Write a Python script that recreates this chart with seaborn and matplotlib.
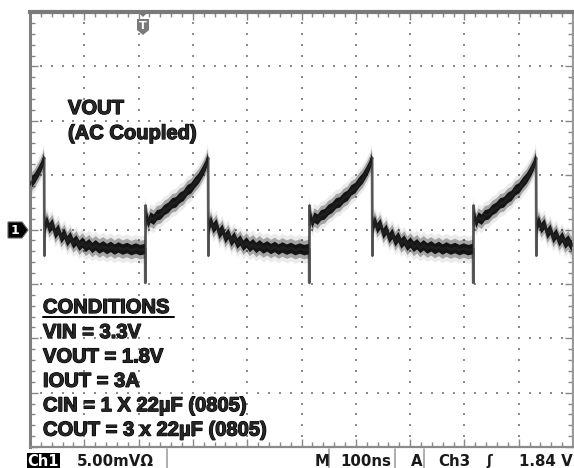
import numpy as np
import pandas as pd
import matplotlib
matplotlib.use("Agg")
import matplotlib.pyplot as plt
import matplotlib.patheffects as pe
import seaborn as sns
from matplotlib.patches import Polygon, Rectangle
from matplotlib.lines import Line2D

# ---- data read from the scope capture (time in ns, voltage in mV, AC coupled) ----
# one switching cycle, time measured from the upward jump
rise_t = [0, 0.4, 0.9, 1.6, 3, 6, 10, 16, 22, 29, 36, 43, 50, 57, 64, 71, 78, 85,
          92, 99, 106, 111, 114, 116]
rise_v = [-1.8, -4.9, 2.2, 0.4, 1.3, 0.6, 1.1, 0.9, 1.3, 1.4, 1.8, 2.0, 2.4, 2.5,
          2.9, 3.1, 3.6, 3.8, 4.3, 4.7, 5.3, 5.8, 6.2, 6.6]
fall_t = [116.6, 117.2, 118.5, 121, 126, 131.5, 137, 142.5, 148, 153.5, 159, 164.5,
          170, 175.5, 181, 187, 193, 199, 205, 211, 218, 225, 232, 239, 246, 253,
          261, 269, 277, 285, 293, 301.5]
fall_v = [-2.4, 0.9, 0.2, 0.8, 0.1, 0.5, -0.4, 0.0, -0.8, -0.4, -1.1, -0.7, -1.3,
          -1.0, -1.5, -1.2, -1.6, -1.35, -1.7, -1.45, -1.75, -1.55, -1.8, -1.6,
          -1.85, -1.65, -1.85, -1.7, -1.9, -1.75, -1.9, -1.8]
cycle_starts = [-90, 212, 514, 816]   # ns, where each upward jump happens

conditions = ["VIN = 3.3V", "VOUT = 1.8V", "IOUT = 3A",
              "CIN = 1 X 22µF (0805)", "COUT = 3 x 22µF (0805)"]

W, H = 574, 468
sns.set_theme(style="white")
plt.rcParams['font.family'] = ['Liberation Sans', 'DejaVu Sans']

fig = plt.figure(figsize=(W / 100, H / 100), dpi=100)
fig.patch.set_facecolor("white")
ax = fig.add_axes([30 / W, (H - 447) / H, 543 / W, 435 / H])
ax.set_facecolor("white")

cyc_t = np.array(rise_t + fall_t)
cyc_v = np.array(rise_v + fall_v)
df = pd.DataFrame({
    "t": np.concatenate([cyc_t + s for s in cycle_starts]),
    "v": np.concatenate([cyc_v for _ in cycle_starts]),
})

# graticule dots
gx, gy = [], []
for xv in range(100, 1000, 100):
    for yv in np.arange(-20, 20.01, 1):
        gx.append(xv); gy.append(yv)
for yv in range(-15, 16, 5):
    for xv in np.arange(0, 1000.1, 20):
        gx.append(xv); gy.append(yv)
ax.scatter(gx, gy, s=2.2, marker="s", color="#8c8c8c", linewidths=0, zorder=1)

# trace: fuzz bands + thin core (keeps spikes thin)
ax.fill_between(df.t, df.v - 1.25, df.v + 1.25, color="black", alpha=0.08, lw=0, zorder=2)
ax.fill_between(df.t, df.v - 0.85, df.v + 0.85, color="black", alpha=0.30, lw=0, zorder=2)
ax.fill_between(df.t, df.v - 0.48, df.v + 0.48, color="black", alpha=0.88, lw=0, zorder=2)
sns.lineplot(data=df, x="t", y="v", color="#222222", lw=2.0, alpha=0.75, ax=ax,
             sort=False, estimator=None, zorder=3)

ax.set_xlim(0, 1000)
ax.set_ylim(-20, 20)
ax.set_xlabel("")
ax.set_ylabel("")
ax.set_xticks(np.arange(0, 1001, 100))
ax.set_xticks(np.arange(0, 1001, 20), minor=True)
ax.set_yticks(np.arange(-20, 21, 5))
ax.set_yticks(np.arange(-20, 21, 1), minor=True)
ax.tick_params(which="both", direction="in", top=True, right=True, bottom=True,
               left=True, labelbottom=False, labelleft=False, color="#888888", width=1)
ax.tick_params(which="major", length=6)
ax.tick_params(which="minor", length=3.5)
for side, lw, c in [("top", 3.0, "#7a7a7a"), ("left", 2.2, "#7f7f7f"),
                    ("right", 1.6, "#9a9a9a"), ("bottom", 1.6, "#8a8a8a")]:
    ax.spines[side].set_visible(True)
    ax.spines[side].set_linewidth(lw)
    ax.spines[side].set_color(c)


def fx(x):
    return x / W


def fy(y):
    return 1 - y / H


heavy = [pe.withStroke(linewidth=0.9, foreground="black")]
bold = dict(fontsize=14.5, fontweight="bold", va="baseline", ha="left",
            family=["Liberation Sans", "DejaVu Sans"], path_effects=heavy)
fig.text(fx(68), fy(114), "VOUT", **bold)
fig.text(fx(68), fy(139), "(AC Coupled)", **bold)
fig.text(fx(43), fy(313), "CONDITIONS", **bold)
fig.add_artist(Line2D([fx(43), fx(174)], [fy(316.5)] * 2, color="black", lw=1.4))
for i, line in enumerate(conditions):
    fig.text(fx(43), fy(338 + i * 24.4), line, **bold)

# channel 1 marker
fig.add_artist(Polygon([(fx(8), fy(222)), (fx(22), fy(222)), (fx(28), fy(230)),
                        (fx(22), fy(238)), (fx(8), fy(238))], closed=True,
                       facecolor="black", edgecolor="#666666", lw=0.8))
fig.text(fx(15), fy(230), "1", color="white", fontsize=9, fontweight="bold",
         ha="center", va="center", family=["DejaVu Sans"])

# trigger marker
fig.add_artist(Polygon([(fx(139), fy(13)), (fx(147), fy(13)), (fx(143), fy(17))],
                       closed=True, facecolor="#777777", edgecolor="none"))
fig.add_artist(Polygon([(fx(137), fy(19)), (fx(149), fy(19)), (fx(149), fy(30)),
                        (fx(143), fy(35)), (fx(137), fy(30))], closed=True,
                       facecolor="#7a7a7a", edgecolor="none"))
fig.text(fx(143), fy(26), "T", color="white", fontsize=8, fontweight="bold",
         ha="center", va="center", family=["DejaVu Sans"])

# status bar
fig.add_artist(Rectangle((fx(27), fy(468)), 33 / W, 15 / H, facecolor="black",
                         edgecolor="none"))
st = dict(fontsize=10.8, fontweight="bold", va="baseline", family=["DejaVu Sans"],
          color="#1a1a1a")
fig.text(fx(43.5), fy(466), "Ch1", color="white", fontsize=10.5, fontweight="bold",
         ha="center", va="baseline", family=["DejaVu Sans"])
fig.text(fx(77), fy(466), "5.00mVΩ", ha="left", **st)
fig.text(fx(315), fy(466), "M", ha="left", **st)
fig.text(fx(340), fy(466), "100ns", ha="left", **st)
fig.text(fx(411), fy(466), "A", ha="left", **st)
fig.text(fx(438), fy(466), "Ch3", ha="left", **st)
fig.text(fx(489), fy(461), "ʃ", ha="center", fontsize=10, fontweight="bold",
         va="center", family=["DejaVu Sans"], color="#1a1a1a")
fig.text(fx(573), fy(466), "1.84 V", ha="right", **st)
for xs in [167, 329, 395, 424]:
    fig.add_artist(Line2D([fx(xs), fx(xs)], [fy(449), fy(468)], color="#a0a0a0", lw=1.2))

fig.savefig("out.png", dpi=100, facecolor="white")
